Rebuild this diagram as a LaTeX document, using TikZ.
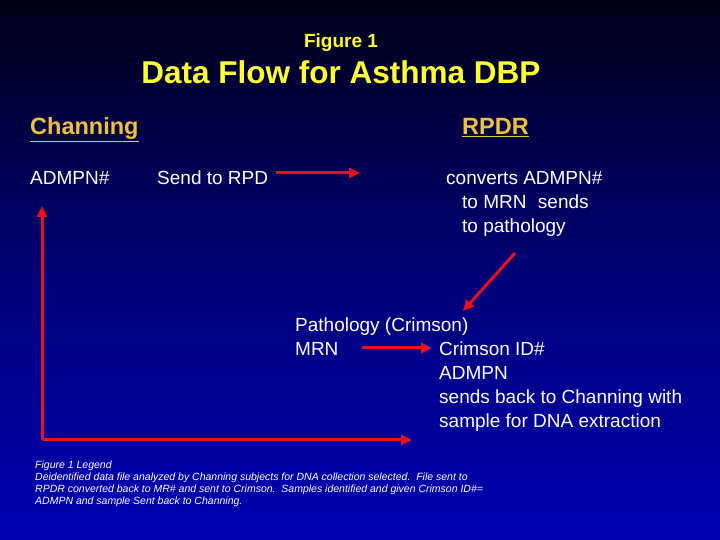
\documentclass[tikz,border=0pt]{standalone}
\usepackage{fontspec}
\setmainfont{Liberation Sans}
\usetikzlibrary{arrows.meta}
\definecolor{bgtop}{HTML}{000018}
\definecolor{bgbot}{HTML}{0000B4}
\definecolor{titley}{HTML}{FFFF33}
\definecolor{headc}{HTML}{F0C040}
\definecolor{arr}{HTML}{E8101A}
\begin{document}
\begin{tikzpicture}[x=1pt,y=1pt,
  txt/.style={text=white,font=\fontsize{19}{24}\selectfont,inner sep=0pt,anchor=base west},
  head/.style={text=headc,font=\fontsize{23.5}{24}\selectfont\bfseries,inner sep=0pt,anchor=base west},
  flow/.style={draw=arr,line width=3pt,-{Triangle[length=11pt,width=10pt]}}]
\shade[top color=bgtop,bottom color=bgbot,middle color=bgtop!40!bgbot] (0,0) rectangle (720,540);
\useasboundingbox (0,0) rectangle (720,540);
\node[text=titley,font=\fontsize{19}{20}\selectfont\bfseries,inner sep=0pt,anchor=base] (fig) at (341,492) {Figure 1};
\node[text=titley,font=\fontsize{31.5}{32}\selectfont\bfseries,inner sep=0pt,anchor=base] (title) at (341,456) {Data Flow for Asthma DBP};
\node[head] (chan) at (30,405) {\underline{Channing}};
\node[head] (rpdr) at (462,405) {\underline{RPDR}};
\node[txt] (admpn) at (30,355) {ADMPN\#};
\node[txt] (send) at (157,355) {Send to RPD};
\coordinate (a1s) at (276,367);
\coordinate (a1e) at (360,367);
\draw[flow] (a1s) -- (a1e);
\node[txt] (conv1) at (446,355) {converts ADMPN\#};
\node[txt] (conv2) at (462,331) {to MRN\hspace{0.6em}sends};
\node[txt] (conv3) at (462,307) {to pathology};
\coordinate (a2s) at (515,287);
\coordinate (a2e) at (463,229);
\draw[flow] (a2s) -- (a2e);
\node[txt] (path) at (295,208) {Pathology (Crimson)};
\node[txt] (mrn) at (295,184) {MRN};
\node[txt] (crim1) at (439,184) {Crimson ID\#};
\node[txt] (crim2) at (439,160) {ADMPN};
\node[txt] (crim3) at (439,136) {sends back to Channing with};
\node[txt] (crim4) at (439,112) {sample for DNA extraction};
\coordinate (a3s) at (362,192);
\coordinate (a3e) at (432,192);
\draw[flow] (a3s) -- (a3e);
\coordinate (c0) at (42,100);
\coordinate (cup) at (42,334);
\coordinate (cr) at (412,100);
\draw[flow] (c0) -- (cup);
\draw[flow] (c0) -- (cr);
\node[text=white,font=\fontsize{10.5}{12}\selectfont\itshape,inner sep=0pt,anchor=north west,align=left] (leg) at (35,79) {Figure 1 Legend\\Deidentified data file analyzed by Channing subjects for DNA collection selected.\ \ File sent to\\RPDR converted back to MR\# and sent to Crimson.\ \ Samples identified and given Crimson ID\#=\\ADMPN and sample Sent back to Channing.};
\end{tikzpicture}
\end{document}
